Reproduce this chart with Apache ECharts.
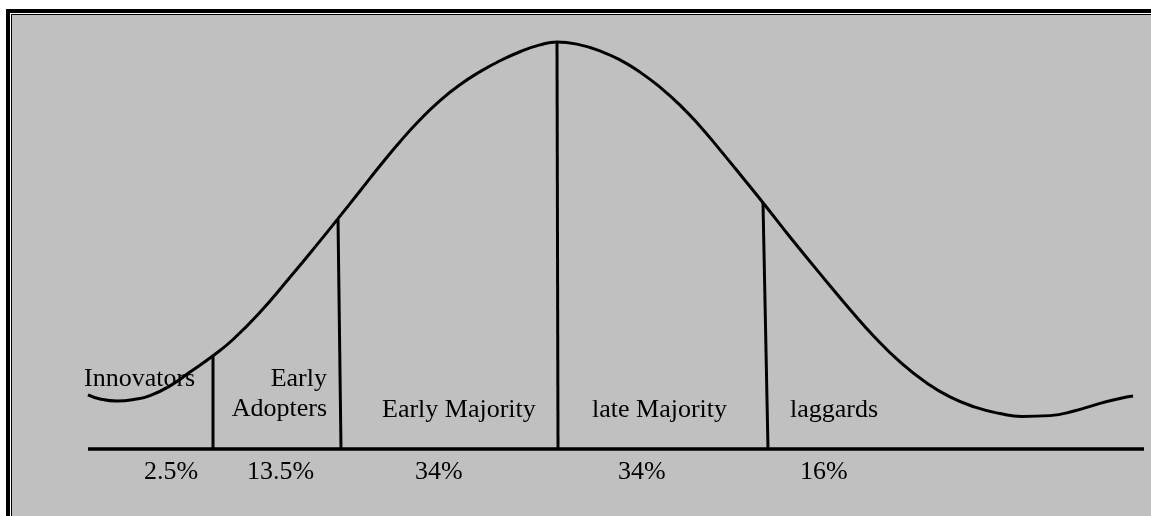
<!DOCTYPE html>
<html>
<head>
<meta charset="utf-8">
<script src="https://cdn.jsdelivr.net/npm/echarts@6/dist/echarts.min.js"></script>
<style>
html,body{margin:0;padding:0;background:#fff;overflow:hidden;width:1151px;height:516px;}
.layer{position:absolute;width:1200px;height:600px;}
#l1{left:6px;top:9px;background:#000;}
#l2{left:10px;top:13px;background:#fff;}
#l3{left:11px;top:14px;background:#000;}
#l4{left:12px;top:15px;background:#c0c0c0;}
#wrap{position:absolute;left:0;top:0;width:1151px;height:516px;overflow:hidden;}
#chart{position:absolute;left:0;top:0;width:1151px;height:516px;}
</style>
</head>
<body>
<div id="wrap">
<div class="layer" id="l1"></div>
<div class="layer" id="l2"></div>
<div class="layer" id="l3"></div>
<div class="layer" id="l4"></div>
<div id="chart"></div>
</div>
<script>
// ---- data (x: position units, y: % of peak height) ----
const curveX = [0.8, 2.0, 3.7, 5.5, 7.0, 9.0, 11.0, 13.3, 15.3, 18.0, 21.0, 23.5, 25.8, 28.0, 30.0, 32.0, 34.0, 36.0, 38.0, 40.0, 42.0, 44.0, 46.0, 47.7, 50.0, 52.0, 54.0, 56.0, 58.0, 60.0, 62.0, 64.0, 66.3, 68.5, 71.0, 74.5, 77.0, 79.5, 82.0, 84.5, 87.0, 89.5, 92.0, 94.2, 97.0, 99.5, 102.0, 104.0, 105.3];
const curveY = [13.3, 12.3, 11.8, 12.2, 13.1, 15.5, 18.9, 22.9, 26.9, 33.6, 42.2, 49.6, 56.6, 63.4, 69.6, 75.5, 80.9, 85.6, 89.5, 92.7, 95.4, 97.6, 99.3, 100, 99.3, 97.8, 95.6, 92.6, 88.9, 84.5, 79.3, 73.5, 66.6, 59.9, 52.1, 41.6, 34.3, 27.4, 21.4, 16.5, 12.8, 10.3, 8.7, 8.0, 8.2, 9.4, 11.2, 12.4, 13.0];
const dividerTopX = [13.3, 25.8, 47.7, 68.3];
const dividerBaseX = [13.3, 26.1, 47.8, 68.8];
const baselineX = [0.8, 106.4];
const segmentNames = ['Innovators', 'Early\nAdopters', 'Early Majority', 'late Majority', 'laggards'];
const segmentShares = ['2.5%', '13.5%', '34%', '34%', '16%'];

// ---- layout ----
const W = 1151, H = 516;
const FONT = '26px "Liberation Serif", "Times New Roman", serif';
const nameAnchors = [ // [x, baseline, align]
  [84, 387, 'left'], [327, 387, 'right'], [382, 418, 'left'], [592, 418, 'left'], [790, 418, 'left']
];
const shareAnchors = [[144, 480], [247, 480], [415, 480], [618, 480], [800, 480]];
const BASE_TO_MID = 8;
const LINE_GAP = 30;

function curveAt(x) {
  for (let i = 0; i < curveX.length - 1; i++) {
    if (x >= curveX[i] && x <= curveX[i + 1]) {
      const t = (x - curveX[i]) / (curveX[i + 1] - curveX[i]);
      return curveY[i] + t * (curveY[i + 1] - curveY[i]);
    }
  }
  return curveY[curveY.length - 1];
}

const graphics = [];
segmentNames.forEach((name, i) => {
  const [ax, by, al] = nameAnchors[i];
  name.split('\n').forEach((line, j) => {
    graphics.push({ type: 'text', z: 100, x: ax, y: by + j * LINE_GAP - BASE_TO_MID,
      style: { text: line, font: FONT, fill: '#000', align: al, verticalAlign: 'middle' } });
  });
});
segmentShares.forEach((s, i) => {
  const [ax, by] = shareAnchors[i];
  graphics.push({ type: 'text', z: 100, x: ax, y: by - BASE_TO_MID,
    style: { text: s, font: FONT, fill: '#000', align: 'left', verticalAlign: 'middle' } });
});

const lineStyleBlack = (w) => ({ color: '#000', width: w, cap: 'butt' });
const series = [
  {
    type: 'line', data: curveX.map((x, i) => [x, curveY[i]]), smooth: 0.5, symbol: 'none',
    clip: false, lineStyle: lineStyleBlack(3), z: 5, animation: false
  },
  {
    type: 'line', data: baselineX.map(x => [x, 0]), symbol: 'none', clip: false,
    lineStyle: lineStyleBlack(3.5), z: 4, animation: false
  }
];
dividerTopX.forEach((xt, i) => {
  series.push({
    type: 'line', data: [[xt, curveAt(xt)], [dividerBaseX[i], 0]], symbol: 'none', clip: false,
    lineStyle: lineStyleBlack(3), z: 4, animation: false
  });
});

const chart = echarts.init(document.getElementById('chart'), null, { renderer: 'canvas', width: W, height: H });
chart.setOption({
  backgroundColor: 'transparent',
  animation: false,
  grid: { left: 80, right: 1, top: 42, bottom: 67 },
  xAxis: { type: 'value', min: 0, max: 107, show: false },
  yAxis: { type: 'value', min: 0, max: 100, show: false },
  graphic: graphics,
  series: series
});
</script>
</body>
</html>
